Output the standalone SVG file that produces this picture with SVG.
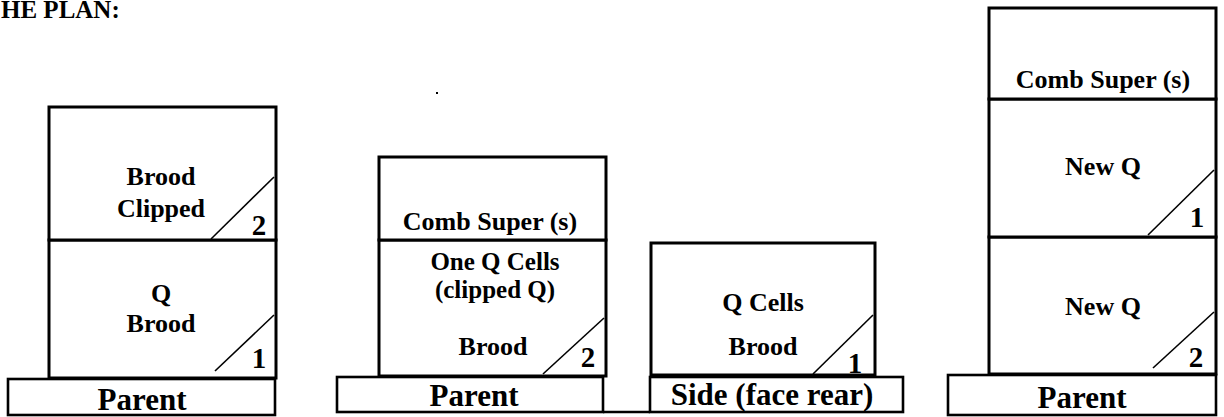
<svg xmlns="http://www.w3.org/2000/svg" width="1224" height="417" viewBox="0 0 1224 417">
<style>
.box{fill:#fff;stroke:#000;stroke-width:3}
.base{fill:#fff;stroke:#000;stroke-width:2.6}
.diag{stroke:#000;stroke-width:1.6;fill:none}
text{font-family:"Liberation Serif","Times New Roman",serif;font-weight:bold;fill:#000}
.lbl{font-size:26px;text-anchor:middle}
.sm{font-size:25px}
.num{font-size:29px;text-anchor:middle}
.pl{font-size:31px;text-anchor:middle}
</style>
<rect width="1224" height="417" fill="#fff"/>
<text x="1" y="18" font-size="25">HE PLAN:</text>
<rect x="436" y="92" width="2" height="2" fill="#000"/>

<!-- Stack 1 -->
<g id="s1-base"><rect class="base" x="8" y="379" width="267" height="36"/><text class="pl" x="142" y="410">Parent</text></g>
<g id="s1-box1"><rect class="box" x="49" y="240" width="227" height="138"/>
<line class="diag" x1="215" y1="371" x2="274" y2="315"/>
<text class="lbl" x="161" y="302">Q</text><text class="lbl" x="161" y="332">Brood</text>
<text class="num" x="259" y="368">1</text></g>
<g id="s1-box2"><rect class="box" x="49" y="107" width="227" height="133"/>
<line class="diag" x1="211" y1="239" x2="274" y2="177"/>
<text class="lbl" x="161" y="185">Brood</text><text class="lbl" x="161" y="217">Clipped</text>
<text class="num" x="259" y="235">2</text></g>

<!-- Stack 2 -->
<g id="s2-base"><rect class="base" x="337" y="377" width="266" height="35"/><text class="pl" x="474" y="406">Parent</text></g>
<g id="s2-box"><rect class="box" x="379" y="240" width="227" height="136"/>
<line class="diag" x1="543" y1="374" x2="604" y2="318"/>
<text class="lbl sm" x="495" y="270">One Q Cells</text><text class="lbl sm" x="495" y="298">(clipped Q)</text>
<text class="lbl" x="493" y="355">Brood</text>
<text class="num" x="588" y="367">2</text></g>
<g id="s2-super"><rect class="box" x="379" y="157" width="227" height="83"/>
<text class="lbl" x="490" y="230">Comb Super (s)</text></g>

<!-- Side -->
<g id="side-base"><rect class="base" x="650" y="377" width="253" height="35"/><text class="pl" x="772" y="405">Side (face rear)</text></g>
<g id="side-box"><rect class="box" x="651" y="243" width="224" height="132"/>
<line class="diag" x1="813" y1="374" x2="873" y2="315"/>
<text class="lbl" x="763" y="311">Q Cells</text><text class="lbl" x="763" y="355">Brood</text>
<text class="num" x="855" y="373">1</text></g>

<!-- Stack 4 -->
<g id="s4-base"><rect class="base" x="948" y="375" width="268" height="40"/><text class="pl" x="1082" y="408">Parent</text></g>
<g id="s4-box2"><rect class="box" x="989" y="237" width="227" height="137"/>
<line class="diag" x1="1153" y1="368" x2="1214" y2="312"/>
<text class="lbl" x="1103" y="315">New Q</text>
<text class="num" x="1196" y="367">2</text></g>
<g id="s4-box1"><rect class="box" x="989" y="99" width="227" height="138"/>
<line class="diag" x1="1148" y1="235" x2="1214" y2="170"/>
<text class="lbl" x="1103" y="175">New Q</text>
<text class="num" x="1197" y="227">1</text></g>
<g id="s4-super"><rect class="box" x="989" y="8" width="227" height="91"/>
<text class="lbl" x="1103" y="88">Comb Super (s)</text></g>

<g id="connectors"><line x1="603" y1="412" x2="650" y2="412" stroke="#000" stroke-width="2.6"/></g>
</svg>
